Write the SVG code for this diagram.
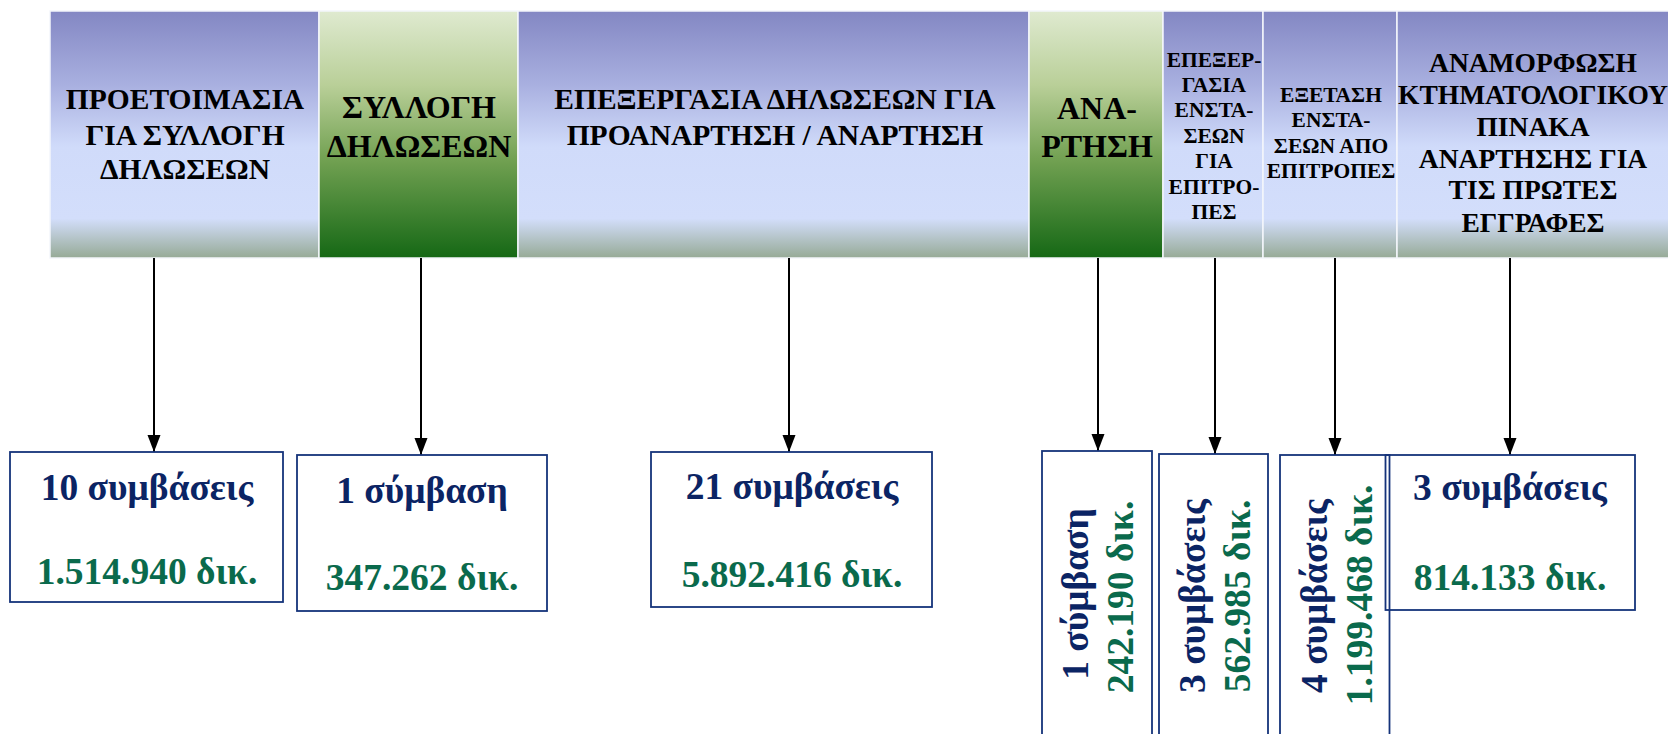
<svg xmlns="http://www.w3.org/2000/svg" width="1668" height="734" viewBox="0 0 1668 734">
<style>
.hd{font-family:"Liberation Serif","Times New Roman",serif;font-weight:bold;fill:#000;text-anchor:middle}
.nv{font-family:"Liberation Serif","Times New Roman",serif;font-weight:bold;fill:#0B2464;text-anchor:middle;font-size:37.5px}
.gr{font-family:"Liberation Serif","Times New Roman",serif;font-weight:bold;fill:#0A6A4C;text-anchor:middle;font-size:37.5px}
.bx{fill:#fff;stroke:#15337A;stroke-width:1.8}
.hb{stroke:#f4f6fb;stroke-width:1.5}
.cn{stroke:#000;stroke-width:2;fill:none;marker-end:url(#ah)}
</style>
<defs>
<linearGradient id="gb" x1="0" y1="0" x2="0" y2="1">
<stop offset="0" stop-color="#8387C3"/>
<stop offset="0.3" stop-color="#A9B0E0"/>
<stop offset="0.55" stop-color="#D0DBFA"/>
<stop offset="0.84" stop-color="#D3DEFB"/>
<stop offset="1" stop-color="#96AA96"/>
</linearGradient>
<linearGradient id="gg" x1="0" y1="0" x2="0" y2="1">
<stop offset="0" stop-color="#DFEAD0"/>
<stop offset="0.3" stop-color="#B9CF98"/>
<stop offset="0.6" stop-color="#72A152"/>
<stop offset="1" stop-color="#156815"/>
</linearGradient>
<marker id="ah" viewBox="0 0 17 14" refX="17" refY="7" markerWidth="17" markerHeight="14" markerUnits="userSpaceOnUse" orient="auto">
<path d="M0,0.5 L17,7 L0,13.5 Z" fill="#000"/>
</marker>
</defs>
<rect width="1668" height="734" fill="#fff"/>

<g id="h1">
<rect class="hb" x="50" y="11" width="269" height="247" fill="url(#gb)"/>
<text class="hd" font-size="29.5"><tspan x="185" y="109">ΠΡΟΕΤΟΙΜΑΣΙΑ</tspan><tspan x="185" y="145">ΓΙΑ ΣΥΛΛΟΓΗ</tspan><tspan x="185" y="179">ΔΗΛΩΣΕΩΝ</tspan></text>
</g>
<g id="h2">
<rect class="hb" x="319" y="11" width="199" height="247" fill="url(#gg)"/>
<text class="hd" font-size="32"><tspan x="419" y="118">ΣΥΛΛΟΓΗ</tspan><tspan x="419" y="157">ΔΗΛΩΣΕΩΝ</tspan></text>
</g>
<g id="h3">
<rect class="hb" x="518" y="11" width="511" height="247" fill="url(#gb)"/>
<text class="hd" font-size="29.5"><tspan x="775" y="109">ΕΠΕΞΕΡΓΑΣΙΑ ΔΗΛΩΣΕΩΝ ΓΙΑ</tspan><tspan x="775" y="145">ΠΡΟΑΝΑΡΤΗΣΗ / ΑΝΑΡΤΗΣΗ</tspan></text>
</g>
<g id="h4">
<rect class="hb" x="1029" y="11" width="134" height="247" fill="url(#gg)"/>
<text class="hd" font-size="32"><tspan x="1097" y="119">ΑΝΑ-</tspan><tspan x="1097" y="157">ΡΤΗΣΗ</tspan></text>
</g>
<g id="h5">
<rect class="hb" x="1163" y="11" width="100" height="247" fill="url(#gb)"/>
<text class="hd" font-size="21.5"><tspan x="1214" y="67">ΕΠΕΞΕΡ-</tspan><tspan x="1214" y="92">ΓΑΣΙΑ</tspan><tspan x="1214" y="117">ΕΝΣΤΑ-</tspan><tspan x="1214" y="143">ΣΕΩΝ</tspan><tspan x="1214" y="168">ΓΙΑ</tspan><tspan x="1214" y="194">ΕΠΙΤΡΟ-</tspan><tspan x="1214" y="219">ΠΕΣ</tspan></text>
</g>
<g id="h6">
<rect class="hb" x="1263" y="11" width="134" height="247" fill="url(#gb)"/>
<text class="hd" font-size="21.5"><tspan x="1331" y="102">ΕΞΕΤΑΣΗ</tspan><tspan x="1331" y="127">ΕΝΣΤΑ-</tspan><tspan x="1331" y="153">ΣΕΩΝ ΑΠΟ</tspan><tspan x="1331" y="178">ΕΠΙΤΡΟΠΕΣ</tspan></text>
</g>
<g id="h7">
<rect class="hb" x="1397" y="11" width="275" height="247" fill="url(#gb)"/>
<text class="hd" font-size="27.5"><tspan x="1533" y="72">ΑΝΑΜΟΡΦΩΣΗ</tspan><tspan x="1533" y="104">ΚΤΗΜΑΤΟΛΟΓΙΚΟΥ</tspan><tspan x="1533" y="136">ΠΙΝΑΚΑ</tspan><tspan x="1533" y="168">ΑΝΑΡΤΗΣΗΣ ΓΙΑ</tspan><tspan x="1533" y="199">ΤΙΣ ΠΡΩΤΕΣ</tspan><tspan x="1533" y="232">ΕΓΓΡΑΦΕΣ</tspan></text>
</g>

<g id="connectors">
<line class="cn" x1="154" y1="258" x2="154" y2="452"/>
<line class="cn" x1="421" y1="258" x2="421" y2="455"/>
<line class="cn" x1="789" y1="258" x2="789" y2="452"/>
<line class="cn" x1="1098" y1="258" x2="1098" y2="451"/>
<line class="cn" x1="1215" y1="258" x2="1215" y2="454"/>
<line class="cn" x1="1335" y1="258" x2="1335" y2="455"/>
<line class="cn" x1="1510" y1="258" x2="1510" y2="455"/>
</g>

<g id="b1">
<rect class="bx" x="10" y="452" width="273" height="150"/>
<text class="nv" x="147" y="500">10 συμβάσεις</text>
<text class="gr" x="147" y="584">1.514.940 δικ.</text>
</g>
<g id="b2">
<rect class="bx" x="297" y="455" width="250" height="156"/>
<text class="nv" x="422" y="503">1 σύμβαση</text>
<text class="gr" x="422" y="590">347.262 δικ.</text>
</g>
<g id="b3">
<rect class="bx" x="651" y="452" width="281" height="155"/>
<text class="nv" x="792" y="499">21 συμβάσεις</text>
<text class="gr" x="792" y="587">5.892.416 δικ.</text>
</g>
<g id="b4">
<rect class="bx" x="1042" y="451" width="110" height="300"/>
<text class="nv" transform="translate(1088,594) rotate(-90)">1 σύμβαση</text>
<text class="gr" transform="translate(1133,597) rotate(-90)">242.190 δικ.</text>
</g>
<g id="b5">
<rect class="bx" x="1159" y="454" width="109" height="300"/>
<text class="nv" transform="translate(1205,596) rotate(-90)">3 συμβάσεις</text>
<text class="gr" transform="translate(1250,596) rotate(-90)">562.985 δικ.</text>
</g>
<g id="b7">
<rect class="bx" x="1385.5" y="455" width="249.5" height="155"/>
<text class="nv" x="1510" y="500">3 συμβάσεις</text>
<text class="gr" x="1510" y="590">814.133 δικ.</text>
</g>
<g id="b6">
<rect class="bx" x="1280" y="455" width="109.5" height="300" style="fill:none"/>
<text class="nv" transform="translate(1327,596) rotate(-90)">4 συμβάσεις</text>
<text class="gr" transform="translate(1372,595) rotate(-90)">1.199.468 δικ.</text>
</g>
</svg>
